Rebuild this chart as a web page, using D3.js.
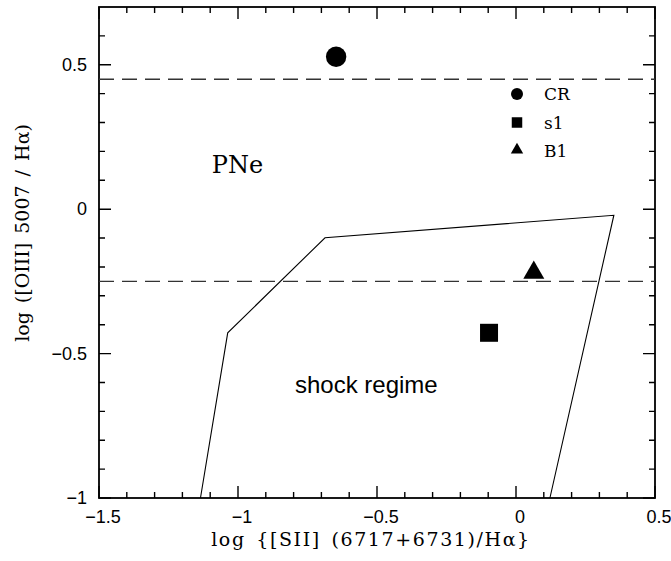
<!DOCTYPE html>
<html><head><meta charset="utf-8">
<script src="https://cdn.jsdelivr.net/npm/d3@7"></script>
<style>
body{margin:0;background:#fff;}
svg{display:block;}
</style></head>
<body>
<svg id="chart" width="671" height="561"></svg>
<script>
// ---- data ----
const xDomain = [-1.5, 0.5];
const yDomain = [-1, 0.7];
const xTickValues = [-1.5, -1, -0.5, 0, 0.5];
const yTickValues = [-1, -0.5, 0, 0.5];
const xTickLabels = ["\u22121.5", "\u22121", "\u22120.5", "0", "0.5"];
const yTickLabels = ["\u22121", "\u22120.5", "0", "0.5"];
const xMinorValues = [-1.4, -1.3, -1.2, -1.1, -0.9, -0.8, -0.7, -0.6, -0.4, -0.3, -0.2, -0.1, 0.1, 0.2, 0.3, 0.4];
const yMinorValues = [-0.9, -0.8, -0.7, -0.6, -0.4, -0.3, -0.2, -0.1, 0.1, 0.2, 0.3, 0.4, 0.6];
const dashedLevels = [0.45, -0.25];
const shockX = [-1.135, -1.037, -0.687, 0.352, 0.122];
const shockY = [-1, -0.428, -0.099, -0.021, -1];
const pointNames = ["CR", "s1", "B1"];
const pointX = [-0.647, -0.097, 0.064];
const pointY = [0.528, -0.428, -0.22];
const pointSymbols = ["circle", "square", "triangle"];
const regionLabels = ["PNe", "shock regime"];
const regionX = [-1.094, -0.795];
const regionY = [0.125, -0.637];
const xTitle = "log {[SII] (6717+6731)/H\u03b1}";
const yTitle = "log ([OIII] 5007 / H\u03b1)";

// ---- layout ----
const svg = d3.select("#chart");
const m = {left: 99, top: 7, right: 16, bottom: 63};
const W = 671 - m.left - m.right, H = 561 - m.top - m.bottom;
const g = svg.append("g").attr("transform", `translate(${m.left},${m.top})`);
const x = d3.scaleLinear().domain(xDomain).range([0, W]);
const y = d3.scaleLinear().domain(yDomain).range([H, 0]);

const serif = "'DejaVu Serif', serif";
const sans = "'Liberation Sans', Arial, sans-serif";
const MAJ = 12, MIN = 6;

// ticks (drawn through scales, on all four sides)
const tp = d3.path();
function addX(vals, len){
  vals.forEach(v => { const px = x(v);
    tp.moveTo(px, H); tp.lineTo(px, H - len);
    tp.moveTo(px, 0); tp.lineTo(px, len); });
}
function addY(vals, len){
  vals.forEach(v => { const py = y(v);
    tp.moveTo(0, py); tp.lineTo(len, py);
    tp.moveTo(W, py); tp.lineTo(W - len, py); });
}
addX(xTickValues, MAJ); addX(xMinorValues, MIN);
addY(yTickValues, MAJ); addY(yMinorValues, MIN);
g.append("path").attr("d", tp.toString()).attr("fill", "none")
  .attr("stroke", "#000").attr("stroke-width", 1.4);

// tick labels
g.append("g").selectAll("text").data(xTickValues).join("text")
  .attr("x", d => x(d) + 4).attr("y", H + 25).attr("text-anchor", "middle")
  .attr("font-family", sans).attr("font-size", 18).attr("fill", "#000")
  .text((d,i) => xTickLabels[i]);
g.append("g").selectAll("text").data(yTickValues).join("text")
  .attr("x", -12).attr("y", d => y(d) + 6).attr("text-anchor", "end")
  .attr("font-family", sans).attr("font-size", 18).attr("fill", "#000")
  .text((d,i) => yTickLabels[i]);

// frame
g.append("rect").attr("x", 0).attr("y", 0).attr("width", W).attr("height", H)
  .attr("fill", "none").attr("stroke", "#000").attr("stroke-width", 1.8);

// dashed lines
g.selectAll(".dash").data(dashedLevels).join("line").attr("class", "dash")
  .attr("x1", 0).attr("x2", W).attr("y1", d => y(d)).attr("y2", d => y(d))
  .attr("stroke", "#333").attr("stroke-width", 1.4).attr("stroke-dasharray", "15,8");

// shock polygon (open)
const poly = shockX.map((v,i) => [x(v), y(shockY[i])]);
g.append("path").attr("d", d3.line()(poly)).attr("fill", "none")
  .attr("stroke", "#000").attr("stroke-width", 1.1);

// points
function symType(s){ return s === "circle" ? d3.symbolCircle : s === "square" ? d3.symbolSquare : d3.symbolTriangle; }
const bigSize = {circle: Math.PI*10.2*10.2, square: 18*18, triangle: 191};
pointNames.forEach((n,i) => {
  g.append("path").attr("d", d3.symbol().type(symType(pointSymbols[i])).size(bigSize[pointSymbols[i]])())
    .attr("transform", `translate(${x(pointX[i])},${y(pointY[i])})`).attr("fill", "#000");
});

// legend
const smallSize = {circle: Math.PI*6*6, square: 10.5*10.5, triangle: 66};
const leg = svg.append("g").attr("transform", "translate(517,94)");
pointNames.forEach((n,i) => {
  const row = leg.append("g").attr("transform", `translate(0,${i*28.5})`);
  row.append("path").attr("d", d3.symbol().type(symType(pointSymbols[i])).size(smallSize[pointSymbols[i]])())
    .attr("transform", pointSymbols[i] === "triangle" ? "translate(0,-1)" : null).attr("fill", "#000");
  row.append("text").attr("x", 27).attr("y", 6).attr("font-family", serif).attr("font-size", 17)
    .attr("fill", "#000").text(n);
});

// region labels
g.append("text").attr("x", x(regionX[0])).attr("y", y(regionY[0])).attr("font-family", serif)
  .attr("font-size", 24).attr("fill", "#000").text(regionLabels[0]);
g.append("text").attr("x", x(regionX[1])).attr("y", y(regionY[1])).attr("font-family", sans)
  .attr("font-size", 24).attr("fill", "#000").text(regionLabels[1]);

// axis titles
svg.append("text").attr("x", m.left + W/2 - 6).attr("y", 546).attr("text-anchor", "middle")
  .attr("font-family", serif).attr("font-size", 19).attr("letter-spacing", 1.6)
  .attr("word-spacing", 3).attr("fill", "#000").text(xTitle);
svg.append("text").attr("transform", `translate(29,233) rotate(-90)`).attr("text-anchor", "middle")
  .attr("font-family", serif).attr("font-size", 19).attr("word-spacing", 3).attr("fill", "#000").text(yTitle);
</script>
</body></html>
